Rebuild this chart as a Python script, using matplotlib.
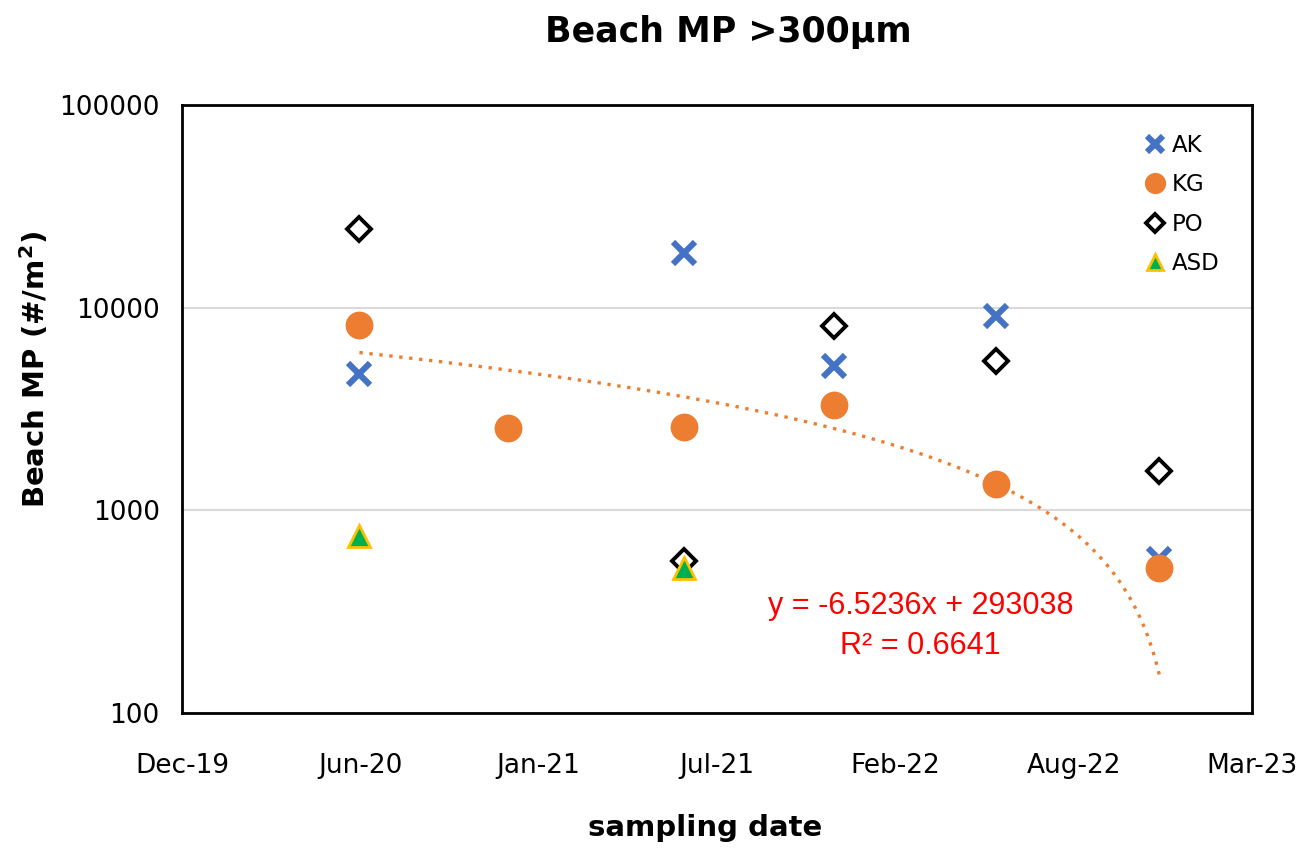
import numpy as np
import pandas as pd
import matplotlib
matplotlib.use("Agg")
import matplotlib.pyplot as plt
import matplotlib.dates as mdates
from matplotlib.ticker import FixedLocator, FuncFormatter, NullLocator

# sampling dates and counts (#/m2)
dates = pd.to_datetime(["2020-06-17", "2020-12-01", "2021-06-16",
                        "2021-12-01", "2022-06-01", "2022-12-01"])
ak = [4730, None, 18700, 5130, 9080, 572]
kg = [8185, 2553, 2580, 3318, 1346, 521]
po = [24400, None, 565, 8090, 5480, 1560]
asd = [743, None, 521, None, None, None]

# Excel linear trendline on KG (x = Excel date serial)
slope = -6.5236
intercept = 293038
eq_text = "y = -6.5236x + 293038\nR² = 0.6641"

tick_dates = pd.to_datetime(["2019-12-01", "2020-06-18", "2021-01-04", "2021-07-23",
                             "2022-02-08", "2022-08-27", "2023-03-15"])
y_ticks = [100, 1000, 10000, 100000]

plt.rcParams['font.family'] = ['DejaVu Sans']

fig = plt.figure(figsize=(13.13, 8.48), dpi=100)
ax = fig.add_axes([0.1386, 0.1592, 0.815, 0.717])

x = mdates.date2num(dates)

def pick(vals):
    xs = [xi for xi, v in zip(x, vals) if v is not None]
    ys = [v for v in vals if v is not None]
    return xs, ys

# trendline
excel_offset = 25569  # mdates.date2num -> Excel serial
xt = np.linspace(x[0], x[-1], 200)
yt = slope * (xt + excel_offset) + intercept
ax.plot(xt, yt, linestyle=(0, (1, 2.0)), color="#ED7D31", lw=2.4, zorder=2)

xs, ys = pick(ak)
ax.plot(xs, ys, linestyle="none", marker="x", ms=15.5, mew=4.4, color="#4472C4",
        label="AK", zorder=3)
xs, ys = pick(kg)
ax.plot(xs, ys, linestyle="none", marker="o", ms=19, color="#ED7D31",
        label="KG", zorder=4)
xs, ys = pick(po)
ax.plot(xs, ys, linestyle="none", marker="D", ms=12.5, mew=2.8, mfc="white",
        mec="black", label="PO", zorder=5)
xs, ys = pick(asd)
ax.plot(xs, ys, linestyle="none", marker="^", ms=16, mew=2, mfc="#00B050",
        mec="#FFC000", label="ASD", zorder=6)

ax.set_yscale("log")
ax.set_ylim(100, 100000)
ax.yaxis.set_major_locator(FixedLocator(y_ticks))
ax.yaxis.set_minor_locator(NullLocator())
ax.yaxis.set_major_formatter(FuncFormatter(lambda v, p: f"{int(round(v))}"))

ax.set_xlim(mdates.date2num(tick_dates[0]), mdates.date2num(tick_dates[-1]))
ax.set_xticks(mdates.date2num(tick_dates))
ax.xaxis.set_major_formatter(mdates.DateFormatter("%b-%y"))

ax.grid(axis="y", color="#D9D9D9", lw=1.5, zorder=0)
ax.set_axisbelow(True)
for s in ax.spines.values():
    s.set_linewidth(2)
    s.set_color("black")
ax.tick_params(length=0, labelsize=19, colors="black")
ax.tick_params(axis="x", pad=38)
ax.tick_params(axis="y", pad=16)
for lab in ax.get_xticklabels():
    lab.set_verticalalignment("center")

fig.text(728 / 1313, 1 - 32 / 848, "Beach MP >300µm", fontsize=25, fontweight="bold",
         ha="center", va="center")
fig.text(705 / 1313, 1 - 828 / 848, "sampling date", fontsize=21, fontweight="bold",
         ha="center", va="center")
fig.text(35 / 1313, 1 - 369 / 848, "Beach MP (#/m$^\\mathregular{2}$)", fontsize=21,
         fontweight="bold", ha="center", va="center", rotation=90)

ax.text(0.690, 0.143, eq_text, transform=ax.transAxes, ha="center", va="center",
        color="red", fontsize=22, family="Liberation Sans", linespacing=1.42)

leg = ax.legend(loc="upper right", frameon=False, fontsize=16.5, handletextpad=0.15,
                labelspacing=0.72, borderaxespad=0.85, markerscale=0.75,
                handlelength=1.1, bbox_to_anchor=(0.996, 1.0))

fig.savefig("out.png", dpi=100)
